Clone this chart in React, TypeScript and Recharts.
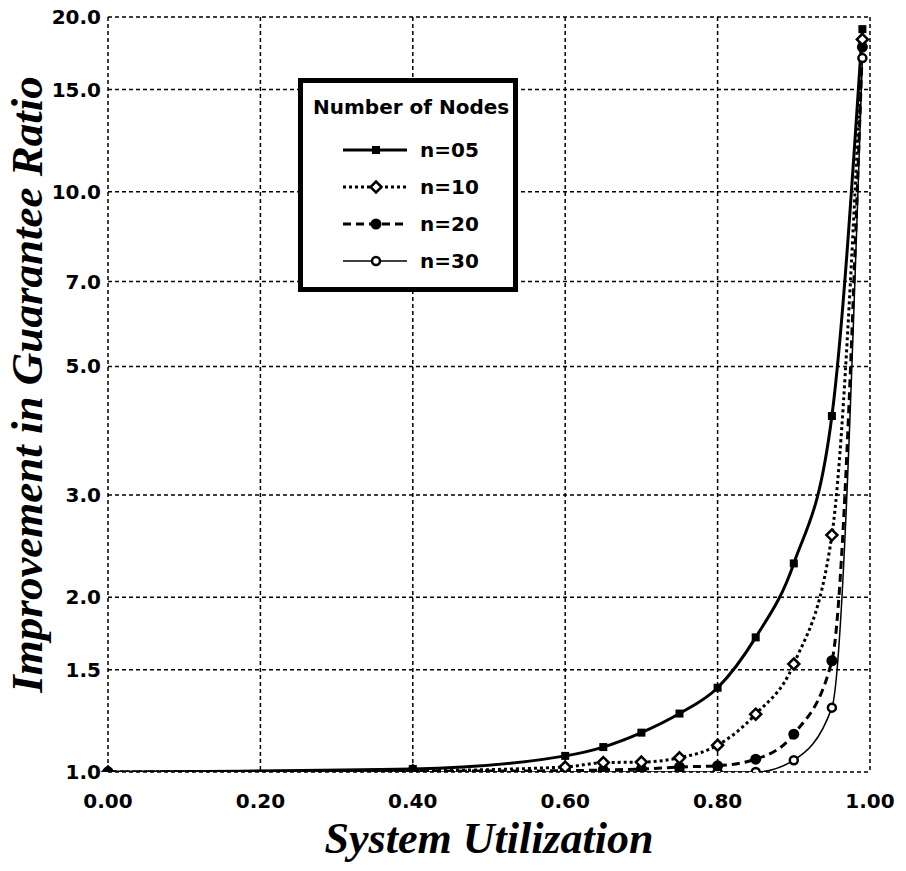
import { LineChart, Line, XAxis, YAxis, CartesianGrid, Legend, Label } from "recharts";

// system utilization at each plotted marker
const utilization = [0, 0.4, 0.6, 0.65, 0.7, 0.75, 0.8, 0.85, 0.9, 0.95, 0.99];

// improvement in guarantee ratio per node count
const n05 = [1.0, 1.012, 1.066, 1.104, 1.169, 1.261, 1.397, 1.706, 2.288, 4.106, 19.06];
const n10 = [1.0, 1.005, 1.02, 1.038, 1.04, 1.058, 1.112, 1.258, 1.535, 2.56, 18.3];
const n20 = [1.0, 1.003, 1.005, 1.008, 1.012, 1.02, 1.025, 1.052, 1.162, 1.555, 17.75];
const n30 = [1.0, 1.0, 1.0, 1.0, 1.0, 1.0, 1.0, 1.0, 1.048, 1.291, 16.99];

const xTicks = [0, 0.2, 0.4, 0.6, 0.8, 1.0];
const yTicks = [1, 1.5, 2, 3, 5, 7, 10, 15, 20];

const data = utilization.map((u, i) => ({
  u,
  n05: n05[i],
  n10: n10[i],
  n20: n20[i],
  n30: n30[i],
}));

const SANS = "'DejaVu Sans', sans-serif";
const SERIF = "'Liberation Serif', 'Times New Roman', serif";
const titleStyle = { fontFamily: SERIF, fontSize: 44, fontWeight: "bold", fontStyle: "italic", fill: "#000" };

const SquareDot = ({ cx, cy }: any) => (
  <rect x={cx - 4} y={cy - 4} width={8} height={8} fill="#000" />
);
const DiamondDot = ({ cx, cy }: any) => (
  <polygon
    points={`${cx},${cy - 5.5} ${cx + 5.5},${cy} ${cx},${cy + 5.5} ${cx - 5.5},${cy}`}
    fill="#fff"
    stroke="#000"
    strokeWidth={2.5}
  />
);
const FilledDot = ({ cx, cy }: any) => <circle cx={cx} cy={cy} r={5.5} fill="#000" />;
const OpenDot = ({ cx, cy }: any) => (
  <circle cx={cx} cy={cy} r={4} fill="#fff" stroke="#000" strokeWidth={2.5} />
);

const series = [
  { key: "n05", name: "n=05", width: 3, dash: undefined, Dot: SquareDot },
  { key: "n10", name: "n=10", width: 3, dash: "3 3", Dot: DiamondDot },
  { key: "n20", name: "n=20", width: 3, dash: "8 5", Dot: FilledDot },
  { key: "n30", name: "n=30", width: 1.5, dash: undefined, Dot: OpenDot },
];

const rowTops = [67, 104, 141, 178];

function NodesLegend() {
  return (
    <div
      style={{
        position: "relative",
        width: 220,
        height: 214,
        boxSizing: "border-box",
        border: "5px solid #000",
        background: "#fff",
        fontFamily: SANS,
        fontWeight: "bold",
        color: "#000",
      }}
    >
      <div style={{ position: "absolute", left: 10, top: 12, fontSize: 20, whiteSpace: "nowrap" }}>
        Number of Nodes
      </div>
      {series.map((s, i) => (
        <div key={s.key} style={{ position: "absolute", left: 40, top: rowTops[i] - 12, height: 24, display: "flex", alignItems: "center" }}>
          <svg width={66} height={24}>
            <line x1={0} x2={64} y1={12} y2={12} stroke="#000" strokeWidth={s.width} strokeDasharray={s.dash} />
            <s.Dot cx={33} cy={12} />
          </svg>
          <span style={{ marginLeft: 11, fontSize: 20 }}>{s.name}</span>
        </div>
      ))}
    </div>
  );
}

// rotated y-axis title, centred a little above the axis middle like the original
const YTitle = ({ viewBox }: any) => {
  const x = viewBox.x + 34;
  const y = viewBox.y + viewBox.height / 2 - 10;
  return (
    <text x={x} y={y} transform={`rotate(-90, ${x}, ${y})`} textAnchor="middle" style={{ ...titleStyle, fontSize: 45 }}>
      Improvement in Guarantee Ratio
    </text>
  );
};

export default function App() {
  const tick = { fontFamily: SANS, fontSize: 20, fontWeight: "bold", fill: "#000" };
  const order = [series[3], series[2], series[1], series[0]];
  return (
    <div style={{ width: 906, height: 871, position: "relative", background: "#fff", margin: "-8px 0 0 -8px" }}>
      <LineChart width={906} height={871} data={data} margin={{ top: 17, right: 36, bottom: 0, left: 8 }}>
        <CartesianGrid stroke="#000" strokeDasharray="4 3" strokeWidth={1.5} />
        <XAxis
          dataKey="u"
          type="number"
          domain={[0, 1]}
          ticks={xTicks}
          tickFormatter={(v: number) => v.toFixed(2)}
          axisLine={false}
          tickLine={false}
          tickSize={0}
          tickMargin={22}
          height={99}
          tick={tick}
        >
          <Label value="System Utilization" position="insideBottom" offset={18} style={titleStyle} />
        </XAxis>
        <YAxis
          type="number"
          scale="log"
          domain={[1, 20]}
          ticks={yTicks}
          allowDataOverflow
          tickFormatter={(v: number) => v.toFixed(1)}
          axisLine={false}
          tickLine={false}
          tickSize={0}
          tickMargin={7}
          width={100}
          tick={tick}
        >
          <Label content={YTitle} />
        </YAxis>
        <Legend
          layout="vertical"
          align="center"
          verticalAlign="middle"
          content={() => <NodesLegend />}
          wrapperStyle={{ left: 298, top: 78, width: 220, height: 214 }}
        />
        {order.map((s) => (
          <Line
            key={s.key}
            dataKey={s.key}
            name={s.name}
            type="monotone"
            stroke="#000"
            strokeWidth={s.width}
            strokeDasharray={s.dash}
            dot={(p: any) => <s.Dot key={`${s.key}-${p.index}`} cx={p.cx} cy={p.cy} />}
            activeDot={false}
            isAnimationActive={false}
          />
        ))}
      </LineChart>
    </div>
  );
}
